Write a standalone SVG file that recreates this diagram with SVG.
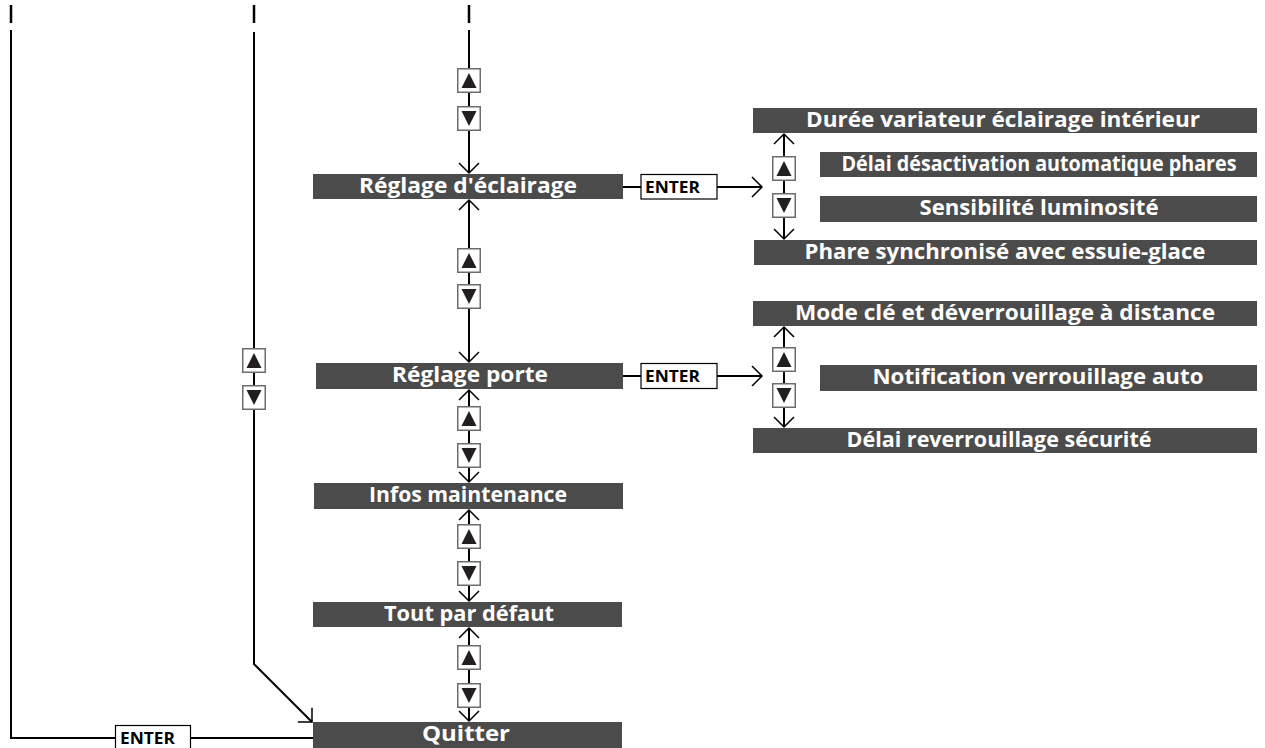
<svg xmlns="http://www.w3.org/2000/svg" xmlns:xlink="http://www.w3.org/1999/xlink" width="1265" height="748" viewBox="0 0 1265 748">
<style>
.box{fill:#4b4b4b}
.lbl{font-family:"Open Sans","DejaVu Sans",sans-serif;font-weight:bold;font-size:21px;fill:#ffffff;text-anchor:middle}
.ent{fill:#ffffff;stroke:#000000;stroke-width:1.2}
.entt{font-family:"Open Sans","DejaVu Sans",sans-serif;font-weight:bold;font-size:16px;fill:#000000}
.ln{stroke:#000000;stroke-width:2;fill:none}
.arr{stroke:#000000;stroke-width:2;fill:none;marker-end:url(#ah)}
.dash{stroke:#000000;stroke-width:2.5}
</style>
<defs>
<marker id="ah" markerUnits="userSpaceOnUse" markerWidth="14" markerHeight="24" viewBox="0 0 14 24" refX="12" refY="12" orient="auto">
<path d="M2,2 L12,12 L2,22" fill="none" stroke="#000000" stroke-width="1.5"/>
</marker>
<symbol id="up" viewBox="0 0 24 25" width="24" height="25">
<rect x="0.75" y="0.75" width="22.5" height="23.5" fill="#ffffff" stroke="#6d6d6d" stroke-width="1.5"/>
<polygon points="12,5 19.5,20 4.5,20" fill="#231f20"/>
</symbol>
<symbol id="dn" viewBox="0 0 24 25" width="24" height="25">
<rect x="0.75" y="0.75" width="22.5" height="23.5" fill="#ffffff" stroke="#6d6d6d" stroke-width="1.5"/>
<polygon points="4.5,5 19.5,5 12,20" fill="#231f20"/>
</symbol>
</defs>
<rect width="1265" height="748" fill="#ffffff"/>

<g id="connectors">
<line class="dash" x1="11" y1="5" x2="11" y2="23"/>
<line class="dash" x1="254" y1="5" x2="254" y2="23"/>
<line class="dash" x1="469" y1="5" x2="469" y2="23"/>
<polyline class="ln" points="11,30 11,738 115,738"/>
<line class="ln" x1="191" y1="738" x2="313" y2="738"/>
<line class="ln" x1="254" y1="32" x2="254" y2="348"/>
<line class="ln" x1="254" y1="373" x2="254" y2="385"/>
<polyline class="arr" points="254,410 254,664 312,722"/>
<line class="ln" x1="469" y1="30" x2="469" y2="68"/>
<line class="ln" x1="469" y1="93" x2="469" y2="106"/>
<line class="arr" x1="469" y1="130" x2="469" y2="173"/>
<line class="arr" x1="469" y1="248" x2="469" y2="200"/>
<line class="ln" x1="469" y1="273" x2="469" y2="284"/>
<line class="arr" x1="469" y1="309" x2="469" y2="362"/>
<line class="arr" x1="469" y1="406" x2="469" y2="390"/>
<line class="ln" x1="469" y1="431" x2="469" y2="443"/>
<line class="arr" x1="469" y1="467" x2="469" y2="482"/>
<line class="arr" x1="469" y1="524" x2="469" y2="510"/>
<line class="ln" x1="469" y1="549" x2="469" y2="561"/>
<line class="arr" x1="469" y1="586" x2="469" y2="601"/>
<line class="arr" x1="469" y1="645" x2="469" y2="628"/>
<line class="ln" x1="469" y1="670" x2="469" y2="683"/>
<line class="arr" x1="469" y1="707" x2="469" y2="721"/>
<line class="ln" x1="623" y1="187" x2="641" y2="187"/>
<line class="arr" x1="717" y1="187" x2="762" y2="187"/>
<line class="arr" x1="784" y1="156" x2="784" y2="134"/>
<line class="ln" x1="784" y1="180" x2="784" y2="193"/>
<line class="arr" x1="784" y1="217" x2="784" y2="239"/>
<line class="ln" x1="623" y1="376" x2="641" y2="376"/>
<line class="arr" x1="717" y1="376" x2="762" y2="376"/>
<line class="arr" x1="784" y1="347" x2="784" y2="327"/>
<line class="ln" x1="784" y1="372" x2="784" y2="383"/>
<line class="arr" x1="784" y1="408" x2="784" y2="427"/>
</g>

<g id="buttons">
<use xlink:href="#up" x="242" y="348"/>
<use xlink:href="#dn" x="242" y="385"/>
<use xlink:href="#up" x="457" y="68"/>
<use xlink:href="#dn" x="457" y="106"/>
<use xlink:href="#up" x="457" y="248"/>
<use xlink:href="#dn" x="457" y="284"/>
<use xlink:href="#up" x="457" y="406"/>
<use xlink:href="#dn" x="457" y="443"/>
<use xlink:href="#up" x="457" y="524"/>
<use xlink:href="#dn" x="457" y="561"/>
<use xlink:href="#up" x="457" y="645"/>
<use xlink:href="#dn" x="457" y="683"/>
<use xlink:href="#up" x="772" y="156"/>
<use xlink:href="#dn" x="772" y="193"/>
<use xlink:href="#up" x="772" y="347"/>
<use xlink:href="#dn" x="772" y="383"/>
</g>

<g id="enter1"><rect class="ent" x="641" y="174.5" width="76" height="24.5"/><text class="entt" x="645" y="193" textLength="55" lengthAdjust="spacingAndGlyphs">ENTER</text></g>
<g id="enter2"><rect class="ent" x="641" y="363.5" width="76" height="25"/><text class="entt" x="645" y="382" textLength="55" lengthAdjust="spacingAndGlyphs">ENTER</text></g>
<g id="enter3"><rect class="ent" x="115.5" y="725.5" width="75" height="24"/><text class="entt" x="120" y="744" textLength="55" lengthAdjust="spacingAndGlyphs">ENTER</text></g>

<g id="reglage-eclairage"><rect class="box" x="313" y="174" width="310" height="25"/><text class="lbl" x="468" y="193" textLength="218" lengthAdjust="spacingAndGlyphs">Réglage d'éclairage</text></g>
<g id="reglage-porte"><rect class="box" x="316" y="363" width="307" height="26"/><text class="lbl" x="470" y="382" textLength="156" lengthAdjust="spacingAndGlyphs">Réglage porte</text></g>
<g id="infos-maintenance"><rect class="box" x="314" y="483" width="309" height="26"/><text class="lbl" x="468" y="502" textLength="198" lengthAdjust="spacingAndGlyphs">Infos maintenance</text></g>
<g id="tout-par-defaut"><rect class="box" x="313" y="602" width="309" height="25"/><text class="lbl" x="469" y="621" textLength="170" lengthAdjust="spacingAndGlyphs">Tout par défaut</text></g>
<g id="quitter"><rect class="box" x="313" y="722" width="309" height="26"/><text class="lbl" x="466" y="741" textLength="88" lengthAdjust="spacingAndGlyphs">Quitter</text></g>

<g id="duree-variateur"><rect class="box" x="753" y="108" width="504" height="25"/><text class="lbl" x="1003" y="127" textLength="394" lengthAdjust="spacingAndGlyphs">Durée variateur éclairage intérieur</text></g>
<g id="delai-desactivation"><rect class="box" x="820" y="152" width="437" height="25"/><text class="lbl" x="1039" y="171" textLength="395" lengthAdjust="spacingAndGlyphs">Délai désactivation automatique phares</text></g>
<g id="sensibilite"><rect class="box" x="820" y="196" width="437" height="26"/><text class="lbl" x="1039" y="215" textLength="239" lengthAdjust="spacingAndGlyphs">Sensibilité luminosité</text></g>
<g id="phare-synchronise"><rect class="box" x="754" y="240" width="503" height="25"/><text class="lbl" x="1005" y="259" textLength="401" lengthAdjust="spacingAndGlyphs">Phare synchronisé avec essuie-glace</text></g>
<g id="mode-cle"><rect class="box" x="753" y="301" width="504" height="25"/><text class="lbl" x="1005" y="320" textLength="420" lengthAdjust="spacingAndGlyphs">Mode clé et déverrouillage à distance</text></g>
<g id="notification"><rect class="box" x="820" y="365" width="437" height="26"/><text class="lbl" x="1038" y="384" textLength="331" lengthAdjust="spacingAndGlyphs">Notification verrouillage auto</text></g>
<g id="delai-reverrouillage"><rect class="box" x="753" y="428" width="504" height="25"/><text class="lbl" x="999" y="447" textLength="305" lengthAdjust="spacingAndGlyphs">Délai reverrouillage sécurité</text></g>
</svg>
